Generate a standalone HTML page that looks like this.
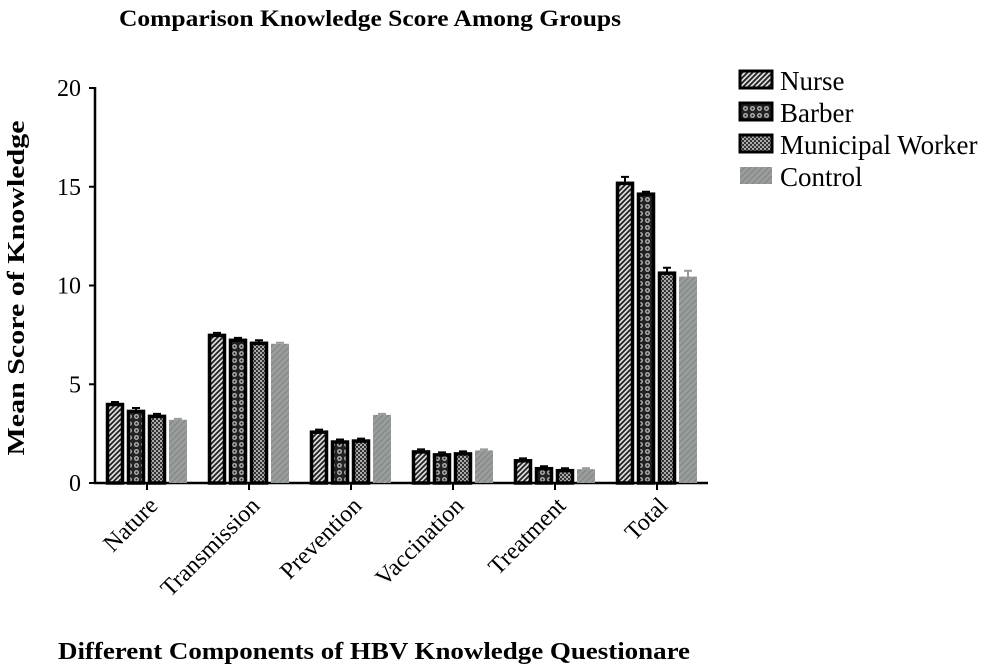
<!DOCTYPE html>
<html><head><meta charset="utf-8"><style>
body{margin:0;background:#fff}
svg{display:block;font-family:"Liberation Serif",serif}
</style></head><body>
<svg id="chart" width="1000" height="667" viewBox="0 0 1000 667">
<defs>
<pattern id="pN" width="5" height="5" patternUnits="userSpaceOnUse"><rect width="5" height="5" fill="#ddd"/><path d="M0 5L5 0M-1 1L1 -1M4 6L6 4" stroke="#222" stroke-width="1.8"/></pattern>
<pattern id="pB" width="7" height="7" patternUnits="userSpaceOnUse"><rect width="7" height="7" fill="#222"/><circle cx="3.5" cy="3.5" r="2.4" fill="#bbb"/><circle cx="3.5" cy="3.5" r="1.1" fill="#222"/></pattern>
<pattern id="pM" width="4" height="4" patternUnits="userSpaceOnUse"><rect width="4" height="4" fill="#333"/><rect width="2" height="2" fill="#aaa"/><rect x="2" y="2" width="2" height="2" fill="#aaa"/></pattern>
<pattern id="pC" width="6" height="6" patternUnits="userSpaceOnUse"><rect width="6" height="6" fill="#989c9b"/><path d="M0 6L6 0" stroke="#80857f" stroke-width="1"/></pattern>
</defs>
<text x="370" y="26" text-anchor="middle" font-weight="bold" font-size="23" textLength="502" lengthAdjust="spacingAndGlyphs">Comparison Knowledge Score Among Groups</text>
<text transform="translate(24,288) rotate(-90)" text-anchor="middle" font-weight="bold" font-size="24" textLength="335" lengthAdjust="spacingAndGlyphs">Mean Score of Knowledge</text>
<text x="374" y="659" text-anchor="middle" font-weight="bold" font-size="24" textLength="632" lengthAdjust="spacingAndGlyphs">Different Components of HBV Knowledge Questionare</text>
<g id="axes"></g><g id="bars"></g><g id="legend"></g>
</svg>
<script>
const categories=["Nature","Transmission","Prevention","Vaccination","Treatment","Total"];
const series=["Nurse","Barber","Municipal Worker","Control"];
const nurse=[4.05,7.55,2.65,1.65,1.2,15.25];
const barber=[3.7,7.3,2.15,1.5,0.8,14.7];
const municipal=[3.45,7.15,2.2,1.55,0.7,10.7];
const control=[3.2,7.05,3.45,1.65,0.7,10.45];
const errors=[[0.05,0.05,0.05,0.05,0.05,0.25],[0.1,0.05,0.05,0.05,0.05,0.05],[0.05,0.08,0.05,0.05,0.05,0.2],[0.05,0.05,0.05,0.05,0.05,0.3]];
const yTicks=[0,5,10,15,20];
const NS="http://www.w3.org/2000/svg";
const y0=483,pxPerUnit=19.75,xLeft=95,xRight=708,groupStart=147,groupStep=102;
const y=v=>y0-v*pxPerUnit;
const xc=i=>groupStart+i*groupStep;
function mk(tag,attrs,parent){const e=document.createElementNS(NS,tag);for(const k in attrs)e.setAttribute(k,attrs[k]);parent.appendChild(e);return e;}
const axes=document.getElementById('axes'),bars=document.getElementById('bars'),legend=document.getElementById('legend');
let a=mk('line',{x1:xLeft,y1:y(20)-1,x2:xLeft,y2:y0+1,stroke:'#000','stroke-width':2.5},axes);


a=mk('line',{x1:xLeft-1,y1:y0,x2:xRight,y2:y0,stroke:'#000','stroke-width':2.5},axes);


yTicks.forEach(t=>{
 mk('line',{x1:xLeft-6,y1:y(t),x2:xLeft,y2:y(t),stroke:'#000','stroke-width':2},axes);
 const tx=mk('text',{x:xLeft-14,y:y(t)+8,'text-anchor':'end','font-size':24},axes);
 tx.textContent=t;
 
 
});
categories.forEach((c,i)=>{
 mk('line',{x1:xc(i),y1:y0,x2:xc(i),y2:y0+7,stroke:'#000','stroke-width':2},axes);
 const tx=mk('text',{transform:`translate(${xc(i)+12},${y0+24}) rotate(-45)`,'text-anchor':'end','font-size':24},axes);
 tx.textContent=c;
 
 
});
const data=[nurse,barber,municipal,control];
const fills=['url(#pN)','url(#pB)','url(#pM)','url(#pC)'];
const bw=18,pitch=21;
data.forEach((vals,s)=>{
 vals.forEach((v,i)=>{
  const x=xc(i)-41+s*pitch;
  const dark=s<3;
  const r=mk('rect',{x:x+(dark?1.5:0),y:y(v)+(dark?1.5:0),width:bw-(dark?3:0),height:v*pxPerUnit-(dark?1.5:0),fill:fills[s],stroke:dark?'#000':'none','stroke-width':dark?3.5:0},bars);
  
  
  const e=errors[s][i];
  const col=dark?'#000':'#999';
  const eb=mk('path',{d:`M${x+bw/2} ${y(v)} V${y(v+e)} M${x+bw/2-4} ${y(v+e)} H${x+bw/2+4}`,stroke:col,'stroke-width':2,fill:'none'},bars);
  
  
 });
});
series.forEach((s,k)=>{
 const ly=64+k*32;
 const g=mk('g',{},legend);
 
 
 mk('rect',{x:740,y:ly+7,width:32,height:17,fill:fills[k],stroke:k<3?'#000':'none','stroke-width':3},g);
 const t=mk('text',{x:780,y:ly+26,'font-size':27},g);
 t.textContent=s;
});
</script>
</body></html>
